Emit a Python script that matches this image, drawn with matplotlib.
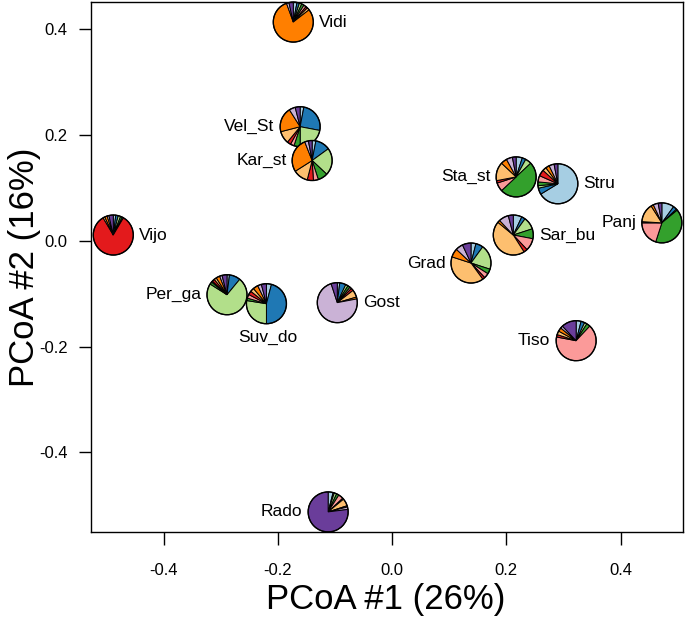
import matplotlib
matplotlib.use("Agg")
import matplotlib.pyplot as plt
import matplotlib.transforms as mtransforms
from matplotlib.patches import Wedge, Circle

plt.rcParams['font.family'] = ['Liberation Sans', 'DejaVu Sans']

# ---- data ----
sites = ["Vidi", "Vel_St", "Kar_st", "Vijo", "Per_ga", "Suv_do", "Gost",
         "Sta_st", "Stru", "Grad", "Sar_bu", "Panj", "Tiso", "Rado"]
pc1 = [-0.173, -0.161, -0.140, -0.488, -0.289, -0.220, -0.096,
       0.217, 0.290, 0.138, 0.212, 0.472, 0.322, -0.112]
pc2 = [0.414, 0.216, 0.152, 0.011, -0.102, -0.119, -0.117,
       0.121, 0.108, -0.042, 0.011, 0.034, -0.189, -0.513]
# cluster proportions (%), order: lblue, blue, lgreen, green, pink, red, lorange, orange, lpurple, purple
proportions = [
    [3, 2, 2, 2, 2, 1.5, 2, 80, 2, 3.5],    # Vidi
    [3, 25, 22, 5, 3, 3, 10, 20, 5, 4],     # Vel_St
    [3, 12, 22, 8, 4, 5, 12, 28, 3, 3],     # Kar_st
    [2, 2, 2, 1.5, 1, 83, 1.5, 2, 1.5, 3.5],  # Vijo
    [2, 9, 73, 2, 1, 2, 2, 3, 2, 4],        # Per_ga
    [4, 45, 27, 2, 3, 3, 3, 4, 3, 4],       # Suv_do
    [2, 5, 2, 2, 1.5, 2, 6, 1.5, 73, 5],    # Gost
    [5, 3, 5, 50, 7, 2, 15, 5, 5, 3],       # Sta_st
    [65, 5, 2, 3, 5, 5, 3, 3, 4, 3],        # Stru
    [4, 6, 20, 4, 4, 2, 40, 7, 6, 7],       # Grad
    [7, 3, 10, 8, 10, 3, 45, 2, 8, 4],      # Sar_bu
    [10, 3, 1, 41, 20, 1, 15, 2, 4, 3],     # Panj
    [4, 3, 2, 3, 66, 2, 3, 3, 2, 12],       # Tiso
    [4, 1, 2, 2, 4, 1, 6, 1, 2, 77],        # Rado
]
label_side = ["right", "left", "left", "right", "left", "below", "right",
              "left", "right", "left", "right", "left", "left", "left"]
xticks = [-0.4, -0.2, 0.0, 0.2, 0.4]
yticks = [-0.4, -0.2, 0.0, 0.2, 0.4]

colors = ["#A6CEE3", "#1F78B4", "#B2DF8A", "#33A02C", "#FB9A99",
          "#E31A1C", "#FDBF6F", "#FF7F00", "#CAB2D6", "#6A3D9A"]

fig = plt.figure(figsize=(6.85, 6.2), dpi=100)
ax = fig.add_axes([91/685, 88/620, 592/685, 530/620])
ax.set_xlim(-0.527, 0.509)
ax.set_ylim(-0.551, 0.452)

R = 0.2  # pie radius in inches
for i, name in enumerate(sites):
    x, y = pc1[i], pc2[i]
    trans = fig.dpi_scale_trans + mtransforms.ScaledTranslation(x, y, ax.transData)
    vals = proportions[i]
    tot = sum(vals)
    cum = 0.0
    for v, c in zip(vals, colors):
        t2 = 90 - cum / tot * 360
        t1 = 90 - (cum + v) / tot * 360
        w = Wedge((0, 0), R, t1, t2, facecolor=c, edgecolor="black",
                  linewidth=0.7, transform=trans, clip_on=False)
        ax.add_patch(w)
        cum += v
    ax.add_patch(Circle((0, 0), R, facecolor="none", edgecolor="black",
                        linewidth=1.0, transform=trans, clip_on=False))
    side = label_side[i]
    if side == "right":
        ax.annotate(name, (x, y), xytext=(18.5, 0), textcoords="offset points",
                    ha="left", va="center", fontsize=12.5)
    elif side == "left":
        ax.annotate(name, (x, y), xytext=(-18.5, 0), textcoords="offset points",
                    ha="right", va="center", fontsize=12.5)
    else:
        ax.annotate(name, (x, y), xytext=(1, -24.5), textcoords="offset points",
                    ha="center", va="center", fontsize=12.5)

ax.set_xticks(xticks)
ax.set_yticks(yticks)
ax.set_xticklabels([f"{t:.1f}" for t in xticks])
ax.set_yticklabels([f"{t:.1f}" for t in yticks])
ax.tick_params(axis="both", direction="out", length=9, width=1, labelsize=12)
ax.tick_params(axis="x", pad=13)
ax.tick_params(axis="y", pad=8)
for s in ax.spines.values():
    s.set_linewidth(1.0)

fig.text(386/685, 1 - 600/620, "PCoA #1 (26%)", fontsize=25,
         ha="center", va="center")
fig.text(25/685, 1 - 267/620, "PCoA #2 (16%)", fontsize=25,
         ha="center", va="center", rotation=90)

fig.savefig("out.png", dpi=100)
